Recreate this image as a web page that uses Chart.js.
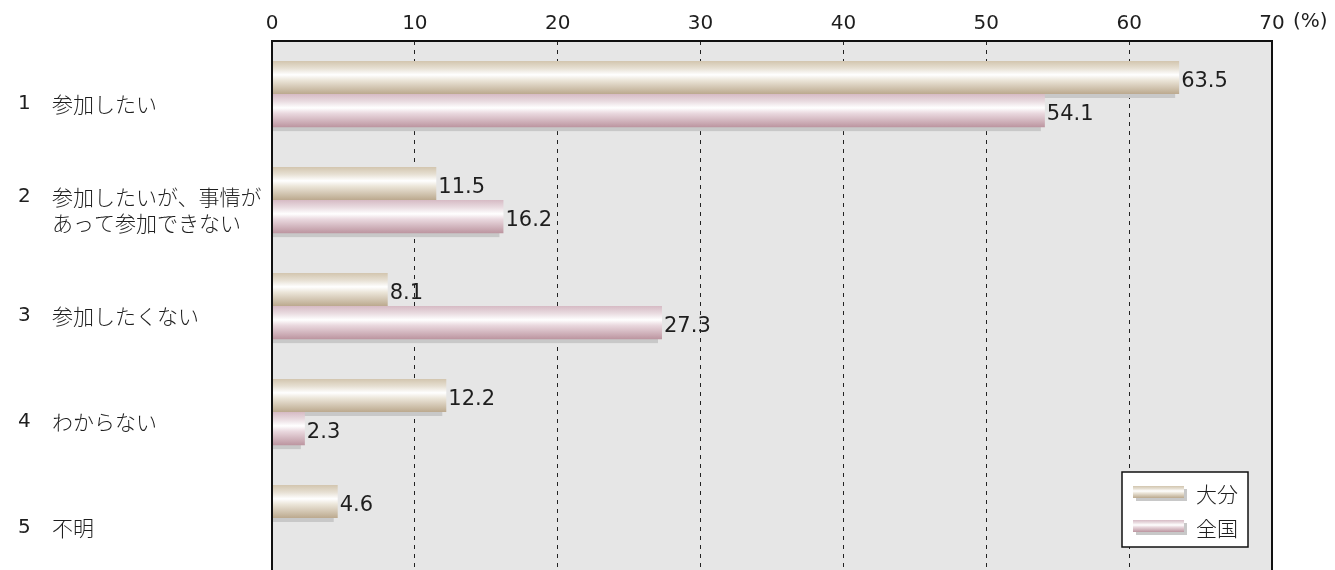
<!DOCTYPE html>
<html lang="ja">
<head>
<meta charset="utf-8">
<script src="https://cdn.jsdelivr.net/npm/chart.js@4.4.1/dist/chart.umd.min.js"></script>
<style>
  html, body { margin: 0; padding: 0; background: #ffffff; overflow: hidden; }
  #wrap { width: 1335px; height: 575px; position: relative; }
</style>
</head>
<body>
<div id="wrap"><canvas id="c"></canvas></div>
<script>
// Survey answers (percent), 大分 vs 全国
const categoryNumbers = ['1', '2', '3', '4', '5'];
const categoryLabels = [
  ['参加したい'],
  ['参加したいが、事情が', 'あって参加できない'],
  ['参加したくない'],
  ['わからない'],
  ['不明']
];
const seriesNames = ['大分', '全国'];
const oitaValues = [63.5, 11.5, 8.1, 12.2, 4.6];
const nationalValues = [54.1, 16.2, 27.3, 2.3, null];
const axisMin = 0;
const axisMax = 70;
const axisStep = 10;
const unitLabel = '(%)';

const JP_FONT = '"Noto Sans CJK JP", "Noto Sans", sans-serif';
const JP_WEIGHT = '300';
const NUM_FONT = '"DejaVu Sans", "Noto Sans", sans-serif';
const NUM_WEIGHT = 'normal';
const INK = '#1e1e1e';

// Cylinder-like shading for each series
const shades = [
  [[0, '#d2c5ae'], [0.22, '#e6dfd2'], [0.42, '#ffffff'], [0.58, '#ece6da'], [1, '#bba98e']],
  [[0, '#d6bac4'], [0.22, '#e9dbe0'], [0.42, '#ffffff'], [0.58, '#ead9df'], [1, '#bc95a0']]
];

function barFill(ctx, top, bottom, stops) {
  const g = ctx.createLinearGradient(0, top, 0, bottom);
  stops.forEach(s => g.addColorStop(s[0], s[1]));
  return g;
}

const CAT_PCT = 0.625;

function scriptedFill(context) {
  const chart = context.chart;
  const ds = context.datasetIndex;
  const yScale = chart.scales.y;
  if (!yScale || !chart.chartArea) return shades[ds][2][1];
  const i = context.dataIndex;
  const center = yScale.getPixelForValue(i);
  const step = Math.abs(yScale.getPixelForValue(1) - yScale.getPixelForValue(0));
  const group = step * CAT_PCT;
  const thick = group / 2;
  const top = center - group / 2 + ds * thick;
  return barFill(chart.ctx, top, top + thick, shades[ds]);
}

// Plot backdrop
const backdrop = {
  id: 'backdrop',
  beforeDraw(chart) {
    const { ctx, chartArea: a } = chart;
    ctx.save();
    ctx.fillStyle = '#e6e6e6';
    ctx.fillRect(a.left, a.top, a.right - a.left, a.bottom - a.top);
    ctx.restore();
  }
};

// Drop shadows under each bar
const barShadows = {
  id: 'barShadows',
  beforeDatasetsDraw(chart) {
    const { ctx, chartArea: a } = chart;
    ctx.save();
    ctx.beginPath();
    ctx.rect(a.left, a.top, a.right - a.left, a.bottom - a.top);
    ctx.clip();
    ctx.fillStyle = '#c8c8c8';
    chart.data.datasets.forEach((d, di) => {
      chart.getDatasetMeta(di).data.forEach((el, i) => {
        if (d.data[i] == null) return;
        const h = el.height;
        ctx.fillRect(el.base - 4, el.y - h / 2 + 4, el.x - el.base, h);
      });
    });
    ctx.restore();
  }
};

// Value labels, frame, category labels, unit and legend
const overlay = {
  id: 'overlay',
  afterDatasetsDraw(chart) {
    const { ctx, chartArea: a } = chart;
    ctx.save();
    ctx.font = NUM_WEIGHT + ' 21px ' + NUM_FONT;
    ctx.fillStyle = INK;
    ctx.textAlign = 'left';
    ctx.textBaseline = 'middle';
    chart.data.datasets.forEach((d, di) => {
      chart.getDatasetMeta(di).data.forEach((el, i) => {
        const v = d.data[i];
        if (v == null) return;
        ctx.fillText(v.toFixed(1), el.x + 2, el.y + 4);
      });
    });
    // frame
    ctx.strokeStyle = '#111111';
    ctx.lineWidth = 2;
    ctx.strokeRect(a.left, a.top, a.right - a.left, a.bottom - a.top);
    ctx.restore();
  },
  afterDraw(chart) {
    const { ctx } = chart;
    const y = chart.scales.y;
    const x = chart.scales.x;
    ctx.save();
    ctx.fillStyle = INK;
    ctx.textBaseline = 'middle';
    ctx.textAlign = 'left';
    // category labels
    categoryLabels.forEach((lines, i) => {
      const cy = y.getPixelForValue(i) + 10;
      const lh = 26;
      const y0 = cy - (lines.length - 1) * lh / 2;
      ctx.font = NUM_WEIGHT + ' 20px ' + NUM_FONT;
      ctx.fillText(categoryNumbers[i], 18, y0);
      ctx.font = JP_WEIGHT + ' 21px ' + JP_FONT;
      lines.forEach((t, k) => ctx.fillText(t, 52, y0 + k * lh));
    });
    // unit after the last tick
    ctx.font = NUM_WEIGHT + ' 20px ' + NUM_FONT;
    ctx.fillText(unitLabel, x.getPixelForValue(axisMax) + 21, 22);

    // legend
    const lx = 1122, ly = 472, lw = 126, lh = 75;
    ctx.fillStyle = '#ffffff';
    ctx.fillRect(lx, ly, lw, lh);
    ctx.strokeStyle = '#111111';
    ctx.lineWidth = 1.5;
    ctx.strokeRect(lx, ly, lw, lh);
    const rows = [486, 520];
    rows.forEach((ry, k) => {
      ctx.fillStyle = '#c8c8c8';
      ctx.fillRect(1136, ry + 3, 51, 12);
      ctx.fillStyle = barFill(ctx, ry, ry + 12, shades[k]);
      ctx.fillRect(1133, ry, 51, 12);
      ctx.fillStyle = INK;
      ctx.font = JP_WEIGHT + ' 21px ' + JP_FONT;
      ctx.fillText(seriesNames[k], 1196, ry + 8);
    });
    ctx.restore();
  }
};

new Chart(document.getElementById('c'), {
  type: 'bar',
  data: {
    labels: categoryLabels,
    datasets: [
      { label: seriesNames[0], data: oitaValues, backgroundColor: scriptedFill, borderWidth: 0 },
      { label: seriesNames[1], data: nationalValues, backgroundColor: scriptedFill, borderWidth: 0 }
    ]
  },
  options: {
    indexAxis: 'y',
    responsive: true,
    maintainAspectRatio: false,
    animation: false,
    layout: { padding: { left: 272, right: 63, top: 0, bottom: 4 } },
    datasets: { bar: { categoryPercentage: CAT_PCT, barPercentage: 1.0 } },
    plugins: { legend: { display: false }, tooltip: { enabled: false } },
    scales: {
      x: {
        position: 'top',
        min: axisMin,
        max: axisMax,
        afterFit(s) { s.height = 41; },
        ticks: {
          stepSize: axisStep,
          padding: 5,
          color: INK,
          font: { family: NUM_FONT, size: 20, weight: NUM_WEIGHT }
        },
        grid: {
          drawTicks: false,
          color: (c) => (c.tick && (c.tick.value === axisMin || c.tick.value === axisMax)) ? 'rgba(0,0,0,0)' : '#222222',
          lineWidth: 1
        },
        border: { display: false, dash: [4, 5] }
      },
      y: {
        display: false,
        offset: true,
        grid: { display: false }
      }
    }
  },
  plugins: [backdrop, barShadows, overlay]
});
</script>
</body>
</html>
